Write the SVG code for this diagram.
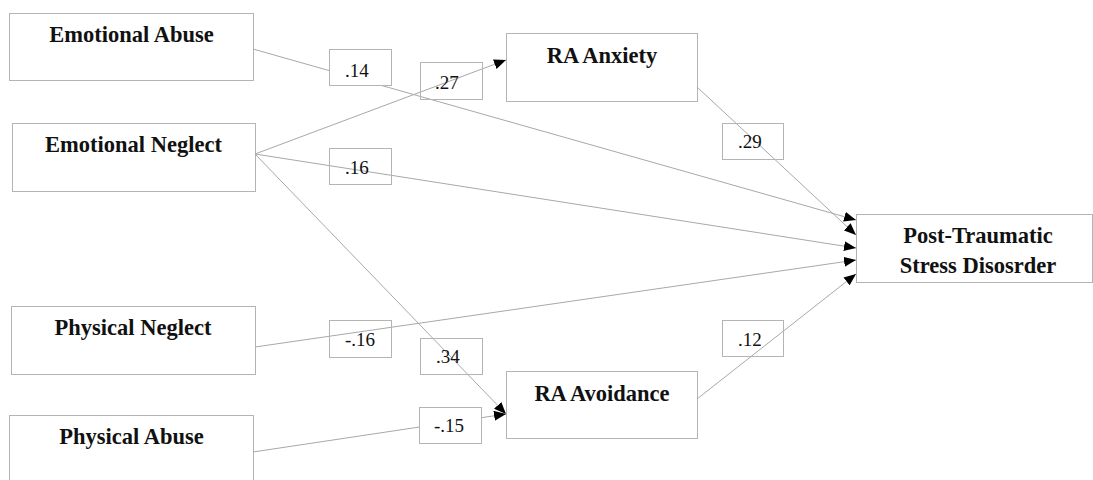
<svg xmlns="http://www.w3.org/2000/svg" width="1093" height="480" viewBox="0 0 1093 480">
<style>
.node rect{fill:#fff;stroke:#b4b4b4;stroke-width:1}
.node text{font-family:"Liberation Serif","Times New Roman",serif;font-weight:bold;font-size:22.5px;fill:#111;text-anchor:middle}
.conn line{stroke:#a8a8a8;stroke-width:1;fill:none}
.lbl rect{stroke:#b4b4b4;stroke-width:1}
.lbl rect.hide{fill:#fff}
.lbl rect.see{fill:none}
.lbl text{font-family:"Liberation Serif","Times New Roman",serif;font-size:19px;fill:#111}
</style>
<defs>
<marker id="arr" viewBox="0 0 12 10" refX="12" refY="5" markerWidth="12" markerHeight="10" markerUnits="userSpaceOnUse" orient="auto">
<path d="M0,0 L12,5 L0,10 Z" fill="#000"/>
</marker>
</defs>
<rect width="1093" height="480" fill="#fff"/>
<g id="nodes">
<g id="emotional-abuse" class="node"><rect x="9.5" y="13.5" width="244" height="67"/><text x="131.5" y="42">Emotional Abuse</text></g>
<g id="emotional-neglect" class="node"><rect x="12.5" y="123.5" width="243" height="68"/><text x="133.5" y="152">Emotional Neglect</text></g>
<g id="physical-neglect" class="node"><rect x="11.5" y="306.5" width="244" height="68"/><text x="133" y="335">Physical Neglect</text></g>
<g id="physical-abuse" class="node"><rect x="9.5" y="415.5" width="244" height="75"/><text x="131.5" y="444">Physical Abuse</text></g>
<g id="ra-anxiety" class="node"><rect x="506.5" y="33.5" width="191" height="68"/><text x="602" y="63">RA Anxiety</text></g>
<g id="ra-avoidance" class="node"><rect x="506.5" y="371.5" width="191" height="67"/><text x="602" y="401">RA Avoidance</text></g>
<g id="ptsd" class="node"><rect x="856.5" y="214.5" width="236" height="68"/><text x="978" y="243">Post-Traumatic</text><text x="978" y="273">Stress Disosrder</text></g>
</g>
<g id="connectors" class="conn">
<line x1="253" y1="49" x2="856" y2="220" marker-end="url(#arr)"/>
<line x1="697" y1="87" x2="856" y2="235" marker-end="url(#arr)"/>
<line x1="255" y1="154" x2="856" y2="248" marker-end="url(#arr)"/>
<line x1="255" y1="347" x2="856" y2="260" marker-end="url(#arr)"/>
<line x1="697" y1="399" x2="856" y2="274" marker-end="url(#arr)"/>
<line x1="255" y1="154" x2="506" y2="60" marker-end="url(#arr)"/>
<line x1="255" y1="154" x2="506" y2="414" marker-end="url(#arr)"/>
<line x1="253" y1="452" x2="506" y2="414" marker-end="url(#arr)"/>
</g>
<g id="labels" class="lbl">
<g id="lbl-14"><rect class="hide" x="329.5" y="49.5" width="62" height="36"/><text x="345" y="77">.14</text></g>
<g id="lbl-27"><rect class="see" x="420.5" y="62.5" width="62" height="37"/><text x="435" y="89">.27</text></g>
<g id="lbl-16"><rect class="see" x="329.5" y="148.5" width="62" height="36"/><text x="345" y="174">.16</text></g>
<g id="lbl-29"><rect class="see" x="722.5" y="123.5" width="61" height="36"/><text x="738" y="148">.29</text></g>
<g id="lbl-m16"><rect class="see" x="329.5" y="320.5" width="62" height="37"/><text x="345" y="346">-.16</text></g>
<g id="lbl-34"><rect class="see" x="420.5" y="338.5" width="62" height="36"/><text x="436" y="363">.34</text></g>
<g id="lbl-m15"><rect class="hide" x="419.5" y="407.5" width="62" height="36"/><text x="434" y="432">-.15</text></g>
<g id="lbl-12"><rect class="see" x="722.5" y="320.5" width="61" height="36"/><text x="738" y="346">.12</text></g>
</g>
</svg>
